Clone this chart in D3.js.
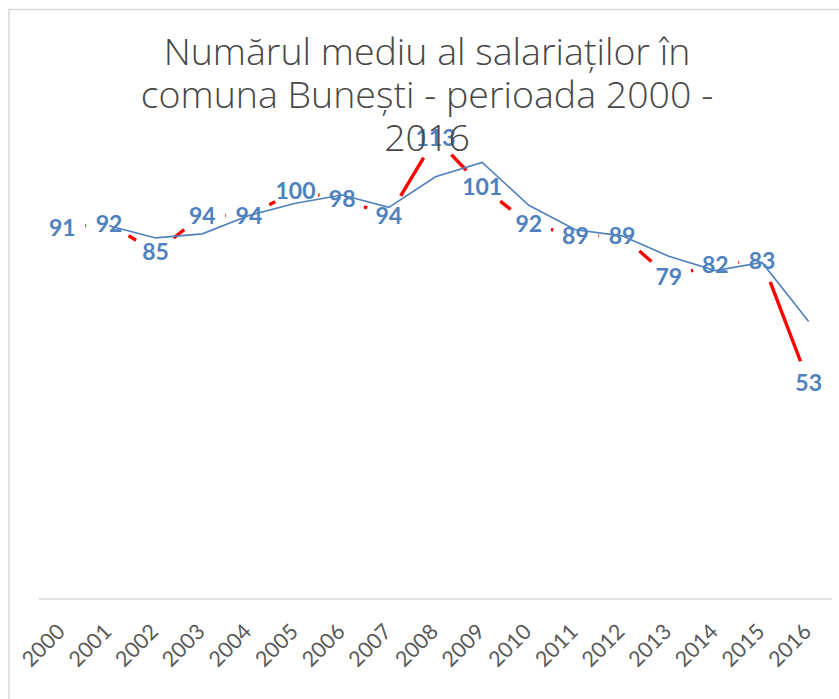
<!DOCTYPE html>
<html>
<head>
<meta charset="utf-8">
<script src="https://cdn.jsdelivr.net/npm/d3@7"></script>
<style>
  body { margin: 0; background: #fff; }
  svg { display: block; }
</style>
</head>
<body>
<svg id="chart" width="839" height="699"></svg>
<script>
const years = ["2000", "2001", "2002", "2003", "2004", "2005", "2006", "2007", "2008",
  "2009", "2010", "2011", "2012", "2013", "2014", "2015", "2016"];
const employees = [91, 92, 85, 94, 94, 100, 98, 94, 113, 101, 92, 89, 89, 79, 82, 83, 53];
// 2-period moving average
const movingAvg = [null, 91.5, 88.5, 89.5, 94, 97, 99, 96, 103.5, 107, 96.5, 90.5, 89, 84, 80.5, 82.5, 68];
const titleLines = ["Numărul mediu al salariaților în", "comuna Bunești - perioada 2000 -", "2016"];

const svg = d3.select("#chart");

// chart frame
svg.append("rect")
  .attr("x", 9).attr("y", 9.5)
  .attr("width", 900).attr("height", 800)
  .style("fill", "#fff")
  .style("stroke", "#d9d9d9")
  .style("stroke-width", 1.5);

const x = d3.scalePoint().domain(years).range([39, 832]).padding(0.5);
const y = d3.scaleLinear().domain([0, 120]).range([599, 109.4]);

// x axis line
svg.append("line")
  .attr("x1", 39).attr("x2", 832)
  .attr("y1", y(0)).attr("y2", y(0))
  .style("stroke", "#d9d9d9")
  .style("stroke-width", 1.5);

// year labels, rotated
svg.append("g").selectAll("text")
  .data(years)
  .join("text")
  .attr("transform", (d) => `translate(${x(d) + 4},${633}) rotate(-45)`)
  .attr("text-anchor", "end")
  .style("font-family", "Lato, Calibri, sans-serif")
  .style("font-size", "21.5px")
  .style("fill", "#595959")
  .text((d) => d);

// red line: each segment trimmed around the labelled points
const gap = 23;
const segs = d3.pairs(years.map((d, i) => [x(d), y(employees[i])]));
svg.append("g").selectAll("line")
  .data(segs)
  .join("line")
  .each(function ([a, b]) {
    const dx = b[0] - a[0], dy = b[1] - a[1];
    const len = Math.hypot(dx, dy);
    const t = Math.min(gap / len, 0.5);
    d3.select(this)
      .attr("x1", a[0] + dx * t).attr("y1", a[1] + dy * t)
      .attr("x2", b[0] - dx * t).attr("y2", b[1] - dy * t);
  })
  .style("stroke", "#ff0000")
  .style("stroke-width", 3.4);

// moving average line
const line = d3.line()
  .defined((d) => d != null)
  .x((d, i) => x(years[i]))
  .y((d) => y(d));

svg.append("path")
  .attr("d", line(movingAvg))
  .style("fill", "none")
  .style("stroke", "#4f81bd")
  .style("stroke-width", 1.6);

// data labels centred on points
svg.append("g").selectAll("text")
  .data(employees)
  .join("text")
  .attr("x", (d, i) => x(years[i]))
  .attr("y", (d) => y(d))
  .attr("dy", "0.36em")
  .attr("text-anchor", "middle")
  .style("font-family", "Lato, Calibri, sans-serif")
  .style("font-weight", "bold")
  .style("font-size", "23px")
  .style("fill", "#4f81bd")
  .text((d) => d);

// title
svg.append("g").selectAll("text")
  .data(titleLines)
  .join("text")
  .attr("x", 427)
  .attr("y", (d, i) => 65 + i * 43)
  .attr("text-anchor", "middle")
  .style("font-family", "'Open Sans', sans-serif")
  .style("font-weight", 300)
  .style("font-size", "37.5px")
  .style("fill", "#474747")
  .text((d) => d);
</script>
</body>
</html>
